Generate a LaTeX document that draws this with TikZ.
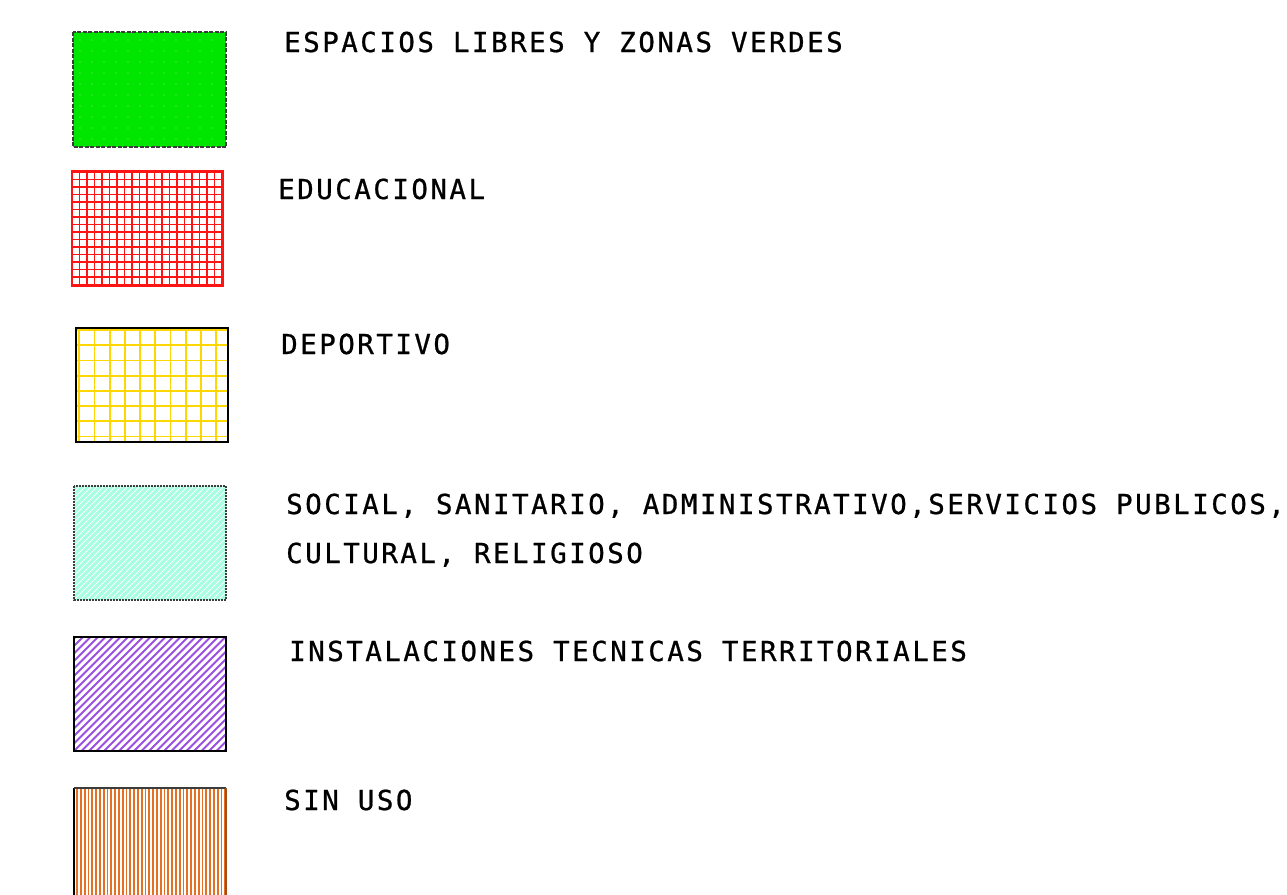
\documentclass[tikz,border=0pt]{standalone}
\usepackage{fontspec}
\newfontfamily\cadfont[LetterSpace=9.0,FakeBold=0.8]{DejaVu Sans Mono}
\definecolor{cgreen}{RGB}{0,230,0}
\definecolor{cred}{RGB}{255,20,20}
\definecolor{cyellow}{RGB}{255,215,0}
\definecolor{cteal}{RGB}{165,255,225}
\definecolor{cpurple}{RGB}{155,80,225}
\definecolor{corange}{RGB}{228,112,35}
\definecolor{cdark}{RGB}{60,60,60}
\begin{document}
\begin{tikzpicture}[x=1pt,y=-1pt,
  lbl/.style={anchor=base west, inner sep=0pt, font=\cadfont\fontsize{27.5}{30}\selectfont},
  frame/.style={draw=black, line width=1.2pt}]
\useasboundingbox (0,0) rectangle (1287,894);

% 1 green
\fill[cgreen] (73,32) rectangle (226,147);
\foreach \x in {80,92,...,220}{
  \foreach \y in {40,51,...,142}{
    \fill[white, opacity=0.45] (\x,\y) circle (0.7);
  }
}
\draw[cdark, line width=1.1pt, dash pattern=on 4pt off 1.5pt] (73,32) rectangle (226,147);

% 2 red grid
\begin{scope}
\clip (72,171) rectangle (223,286);
\foreach \x in {72,79.5,...,224}{\draw[cred, line width=1.8pt] (\x,171) -- (\x,286);}
\foreach \y in {172,179.5,...,287}{\draw[cred, line width=1.8pt] (72,\y) -- (223,\y);}
\end{scope}
\draw[cred, line width=1.6pt] (72,171) rectangle (223,286);

% 3 yellow grid
\begin{scope}
\clip (76,328) rectangle (228,442);
\foreach \x in {79.3,94.5,...,228}{\draw[cyellow, line width=1.8pt] (\x,328) -- (\x,442);}
\foreach \y in {330,345.2,...,442}{\draw[cyellow, line width=1.8pt] (76,\y) -- (228,\y);}
\end{scope}
\draw[frame] (76,328) rectangle (228,442);

% 4 teal
\fill[cteal] (74,486) rectangle (226,600);
\begin{scope}
\clip (74,486) rectangle (226,600);
\foreach \s in {-120,-114,...,160}{\draw[white, line width=0.9pt] (74+\s,600) -- ++(130,-130);}
\end{scope}
\draw[cdark, line width=1.1pt, dash pattern=on 2pt off 1pt] (74,486) rectangle (226,600);

% 5 purple
\begin{scope}
\clip (74,637) rectangle (226,751);
\foreach \s in {-120,-112.5,...,160}{\draw[cpurple, line width=1.9pt] (74+\s,751) -- ++(130,-130);}
\end{scope}
\draw[frame] (74,637) rectangle (226,751);

% 6 orange
\begin{scope}
\clip (74,788) rectangle (226,900);
\foreach \x in {77,80.8,...,226}{\draw[corange, line width=1.8pt] (\x,788) -- (\x,900);}
\end{scope}
\draw[black, line width=1.4pt] (74,900) -- (74,788);
\draw[cdark, line width=1.6pt] (74,788) -- (226,788);
\draw[corange!70!black, line width=1.4pt] (226,788) -- (226,900);

% labels
\node[lbl] (t1) at (284,52) {ESPACIOS LIBRES Y ZONAS VERDES};
\node[lbl] (t2) at (278,199) {EDUCACIONAL};
\node[lbl] (t3) at (281,354) {DEPORTIVO};
\node[lbl] (t4) at (286,514) {SOCIAL, SANITARIO, ADMINISTRATIVO,SERVICIOS PUBLICOS,};
\node[lbl] (t5) at (286,563) {CULTURAL, RELIGIOSO};
\node[lbl] (t6) at (289,661) {INSTALACIONES TECNICAS TERRITORIALES};
\node[lbl] (t7) at (284,810) {SIN USO};
\end{tikzpicture}
\end{document}
